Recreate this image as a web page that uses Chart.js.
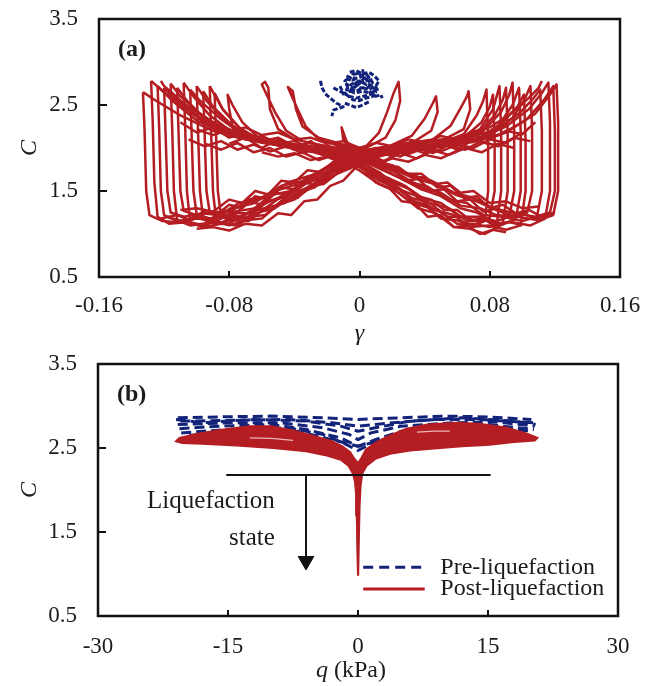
<!DOCTYPE html>
<html>
<head>
<meta charset="utf-8">
<script src="https://cdn.jsdelivr.net/npm/chart.js@4.4.1/dist/chart.umd.min.js"></script>
<style>
  html, body { margin: 0; padding: 0; background: #ffffff; }
  #wrap { position: relative; width: 651px; height: 686px; overflow: hidden; }
  #ca { position: absolute; left: 0; top: 0; }
  #cb { position: absolute; left: 0; top: 350px; }
</style>
</head>
<body>
<div id="wrap">
  <canvas id="ca" width="651" height="350"></canvas>
  <canvas id="cb" width="651" height="336"></canvas>
</div>
<script>
// ---------------- DATA: panel (a)  [gamma, C] ----------------
const xTicksA = ['-0.16', '-0.08', '0', '0.08', '0.16'];
const yTicks  = ['0.5', '1.5', '2.5', '3.5'];
const xTicksB = ['-30', '-15', '0', '15', '30'];

const loopA01 = [[-0.133,2.65],[-0.132,2.2],[-0.131,1.5],[-0.129,1.22],[-0.121,1.15],[-0.108,1.13],[-0.098,1.2],[-0.09,1.17],[-0.078,1.3],[-0.066,1.35],[-0.052,1.5],[-0.038,1.58],[-0.022,1.74],[-0.008,1.86],[0.008,1.93],[0.03,1.98],[0.05,2.03],[0.07,2.07],[0.09,2.18],[0.108,2.4],[0.117,2.62],[0.121,2.74],[0.122,2.3],[0.122,1.5],[0.119,1.22],[0.11,1.16],[0.097,1.2],[0.085,1.27],[0.072,1.38],[0.06,1.45],[0.046,1.58],[0.032,1.66],[0.018,1.78],[0.004,1.88],[-0.012,1.96],[-0.03,2.02],[-0.05,2.06],[-0.07,2.1],[-0.09,2.2],[-0.11,2.38],[-0.125,2.55],[-0.133,2.65]];
const loopA02 = [[-0.128,2.78],[-0.127,2.3],[-0.126,1.6],[-0.124,1.2],[-0.117,1.12],[-0.105,1.14],[-0.095,1.1],[-0.083,1.2],[-0.074,1.18],[-0.062,1.32],[-0.05,1.42],[-0.036,1.56],[-0.02,1.7],[-0.006,1.84],[0.01,1.95],[0.028,2.01],[0.046,2.0],[0.066,2.08],[0.086,2.15],[0.102,2.32],[0.113,2.55],[0.119,2.72],[0.12,2.2],[0.12,1.5],[0.117,1.25],[0.108,1.2],[0.096,1.24],[0.082,1.3],[0.07,1.42],[0.058,1.48],[0.044,1.62],[0.03,1.7],[0.016,1.82],[0.002,1.9],[-0.014,1.94],[-0.034,2.0],[-0.054,2.08],[-0.074,2.12],[-0.094,2.28],[-0.11,2.5],[-0.122,2.68],[-0.128,2.78]];
const loopA03 = [[-0.124,2.72],[-0.123,2.2],[-0.122,1.5],[-0.12,1.22],[-0.112,1.15],[-0.1,1.18],[-0.088,1.15],[-0.077,1.26],[-0.064,1.3],[-0.055,1.45],[-0.042,1.5],[-0.03,1.64],[-0.016,1.76],[-0.004,1.87],[0.012,1.92],[0.032,1.97],[0.052,2.06],[0.072,2.1],[0.09,2.25],[0.104,2.45],[0.112,2.64],[0.116,2.76],[0.117,2.3],[0.117,1.5],[0.114,1.18],[0.105,1.1],[0.093,1.14],[0.083,1.12],[0.072,1.25],[0.062,1.3],[0.05,1.44],[0.038,1.52],[0.024,1.66],[0.01,1.78],[-0.004,1.9],[-0.02,1.98],[-0.04,2.04],[-0.06,2.08],[-0.08,2.14],[-0.1,2.32],[-0.115,2.55],[-0.124,2.72]];
const loopA04 = [[-0.12,2.7],[-0.119,2.1],[-0.118,1.5],[-0.116,1.25],[-0.108,1.2],[-0.097,1.24],[-0.086,1.22],[-0.074,1.36],[-0.062,1.4],[-0.048,1.56],[-0.034,1.62],[-0.02,1.78],[-0.006,1.88],[0.01,1.98],[0.03,2.04],[0.05,2.1],[0.068,2.12],[0.084,2.22],[0.098,2.4],[0.107,2.58],[0.111,2.68],[0.112,2.2],[0.112,1.5],[0.109,1.2],[0.1,1.15],[0.088,1.2],[0.076,1.22],[0.066,1.36],[0.054,1.4],[0.042,1.55],[0.028,1.62],[0.014,1.76],[0.0,1.86],[-0.016,1.95],[-0.036,2.02],[-0.056,2.1],[-0.076,2.16],[-0.094,2.3],[-0.108,2.5],[-0.116,2.62],[-0.12,2.7]];
const loopA05 = [[-0.116,2.75],[-0.115,2.2],[-0.114,1.5],[-0.112,1.16],[-0.104,1.1],[-0.092,1.13],[-0.08,1.12],[-0.07,1.24],[-0.058,1.3],[-0.046,1.46],[-0.034,1.52],[-0.02,1.68],[-0.008,1.8],[0.006,1.9],[0.024,1.95],[0.044,2.0],[0.064,2.06],[0.08,2.14],[0.094,2.35],[0.101,2.55],[0.105,2.72],[0.106,2.2],[0.106,1.5],[0.103,1.25],[0.095,1.2],[0.084,1.22],[0.074,1.3],[0.062,1.33],[0.05,1.48],[0.038,1.54],[0.024,1.7],[0.01,1.82],[-0.006,1.92],[-0.024,1.97],[-0.044,2.03],[-0.064,2.1],[-0.082,2.2],[-0.098,2.4],[-0.11,2.6],[-0.116,2.75]];
const loopA06 = [[-0.112,2.7],[-0.111,2.1],[-0.11,1.5],[-0.108,1.27],[-0.1,1.22],[-0.09,1.26],[-0.08,1.25],[-0.068,1.4],[-0.056,1.44],[-0.044,1.6],[-0.03,1.68],[-0.016,1.8],[-0.002,1.9],[0.016,1.97],[0.036,2.02],[0.056,2.04],[0.074,2.12],[0.088,2.3],[0.097,2.48],[0.101,2.62],[0.102,2.1],[0.102,1.5],[0.099,1.1],[0.09,1.05],[0.079,1.1],[0.068,1.08],[0.058,1.22],[0.046,1.28],[0.034,1.45],[0.022,1.54],[0.01,1.7],[-0.004,1.84],[-0.02,1.93],[-0.04,2.0],[-0.06,2.06],[-0.078,2.14],[-0.094,2.32],[-0.106,2.55],[-0.112,2.7]];
const loopA07 = [[-0.108,2.76],[-0.107,2.2],[-0.106,1.5],[-0.104,1.13],[-0.096,1.08],[-0.085,1.12],[-0.075,1.1],[-0.064,1.24],[-0.052,1.3],[-0.04,1.46],[-0.028,1.54],[-0.014,1.7],[-0.002,1.84],[0.014,1.92],[0.034,1.99],[0.054,2.06],[0.072,2.1],[0.085,2.25],[0.094,2.5],[0.098,2.7],[0.099,2.2],[0.099,1.5],[0.096,1.17],[0.088,1.12],[0.077,1.16],[0.066,1.15],[0.055,1.3],[0.043,1.36],[0.031,1.52],[0.018,1.62],[0.006,1.78],[-0.008,1.88],[-0.024,1.96],[-0.044,2.02],[-0.062,2.08],[-0.078,2.18],[-0.092,2.38],[-0.102,2.6],[-0.108,2.76]];
const loopA08 = [[-0.104,2.68],[-0.103,2.1],[-0.102,1.5],[-0.1,1.23],[-0.092,1.18],[-0.082,1.22],[-0.072,1.2],[-0.06,1.36],[-0.048,1.42],[-0.036,1.58],[-0.022,1.66],[-0.01,1.8],[0.004,1.9],[0.02,1.96],[0.04,2.02],[0.06,2.08],[0.076,2.2],[0.087,2.42],[0.092,2.62],[0.094,2.76],[0.095,2.2],[0.095,1.5],[0.092,1.2],[0.084,1.15],[0.073,1.2],[0.062,1.2],[0.05,1.36],[0.038,1.42],[0.026,1.58],[0.012,1.7],[0.0,1.84],[-0.016,1.94],[-0.036,2.02],[-0.056,2.08],[-0.072,2.16],[-0.086,2.35],[-0.098,2.55],[-0.104,2.68]];
const loopA09 = [[-0.1,2.72],[-0.099,2.1],[-0.098,1.5],[-0.096,1.17],[-0.088,1.12],[-0.078,1.16],[-0.068,1.15],[-0.058,1.3],[-0.046,1.36],[-0.034,1.52],[-0.022,1.6],[-0.01,1.76],[0.004,1.86],[0.02,1.94],[0.04,2.0],[0.058,2.06],[0.072,2.16],[0.083,2.38],[0.088,2.56],[0.09,2.7],[0.091,2.2],[0.091,1.5],[0.088,1.13],[0.08,1.08],[0.07,1.12],[0.06,1.12],[0.048,1.28],[0.036,1.34],[0.024,1.52],[0.012,1.62],[0.0,1.78],[-0.014,1.9],[-0.032,1.98],[-0.052,2.04],[-0.068,2.12],[-0.082,2.3],[-0.094,2.55],[-0.1,2.72]];
const loopA10 = [[-0.096,2.66],[-0.095,2.1],[-0.094,1.5],[-0.092,1.25],[-0.085,1.2],[-0.075,1.24],[-0.066,1.24],[-0.056,1.38],[-0.044,1.44],[-0.032,1.6],[-0.02,1.68],[-0.008,1.82],[0.006,1.92],[0.024,1.98],[0.044,2.04],[0.062,2.1],[0.074,2.22],[0.082,2.45],[0.086,2.72],[0.087,2.2],[0.087,1.5],[0.084,1.07],[0.077,1.0],[0.068,1.06],[0.058,1.08],[0.047,1.24],[0.036,1.3],[0.024,1.48],[0.012,1.58],[0.0,1.74],[-0.012,1.86],[-0.028,1.95],[-0.048,2.02],[-0.064,2.1],[-0.078,2.26],[-0.09,2.48],[-0.096,2.66]];
const loopA11 = [[-0.092,2.72],[-0.091,2.1],[-0.09,1.5],[-0.088,1.15],[-0.08,1.1],[-0.07,1.16],[-0.06,1.18],[-0.05,1.34],[-0.04,1.4],[-0.028,1.58],[-0.016,1.68],[-0.004,1.82],[0.01,1.92],[0.028,1.98],[0.048,2.04],[0.064,2.12],[0.075,2.3],[0.08,2.48],[0.082,2.62],[0.083,2.1],[0.083,1.5],[0.08,1.19],[0.073,1.14],[0.064,1.2],[0.054,1.2],[0.043,1.36],[0.032,1.42],[0.02,1.6],[0.008,1.72],[-0.006,1.86],[-0.022,1.94],[-0.04,2.0],[-0.058,2.08],[-0.072,2.2],[-0.084,2.45],[-0.092,2.72]];
const loopA12 = [[-0.089,2.64],[-0.088,2.1],[-0.087,1.5],[-0.085,1.2],[-0.078,1.16],[-0.068,1.2],[-0.058,1.22],[-0.048,1.38],[-0.036,1.46],[-0.024,1.62],[-0.012,1.72],[0.0,1.86],[0.014,1.94],[0.032,2.0],[0.05,2.06],[0.064,2.16],[0.072,2.38],[0.076,2.55],[0.078,2.68],[0.079,2.1],[0.079,1.5],[0.077,1.15],[0.07,1.1],[0.06,1.16],[0.05,1.18],[0.04,1.34],[0.028,1.42],[0.016,1.6],[0.004,1.74],[-0.01,1.88],[-0.026,1.96],[-0.044,2.02],[-0.062,2.1],[-0.074,2.24],[-0.084,2.45],[-0.089,2.64]];

const spikeA1 = [[-0.02,1.98],[-0.045,2.04],[-0.062,2.12],[-0.072,2.3],[-0.078,2.5],[-0.081,2.62],[-0.08,2.45],[-0.078,2.25],[-0.07,2.12],[-0.05,2.06],[-0.03,2.0],[-0.01,1.94]];
const spikeA2 = [[0.0,1.95],[-0.02,2.0],[-0.035,2.08],[-0.045,2.2],[-0.052,2.42],[-0.057,2.62],[-0.06,2.74],[-0.058,2.77],[-0.056,2.7],[-0.055,2.45],[-0.05,2.22],[-0.04,2.1],[-0.02,2.02],[0.0,1.96]];
const spikeA3 = [[0.005,1.96],[-0.012,2.02],[-0.025,2.1],[-0.033,2.25],[-0.038,2.45],[-0.042,2.62],[-0.044,2.71],[-0.041,2.66],[-0.039,2.45],[-0.035,2.25],[-0.025,2.12],[-0.01,2.04],[0.005,1.98]];
const spikeA4 = [[0.004,1.92],[-0.004,1.98],[-0.008,2.08],[-0.011,2.24],[-0.01,2.1],[-0.006,1.98],[0.002,1.9]];
const spikeA5 = [[-0.01,1.94],[0.004,2.02],[0.012,2.18],[0.017,2.42],[0.021,2.64],[0.024,2.77],[0.025,2.55],[0.022,2.32],[0.016,2.12],[0.004,2.0],[-0.012,1.92]];
const spikeA6 = [[-0.005,1.95],[0.018,2.02],[0.032,2.14],[0.04,2.34],[0.045,2.52],[0.047,2.6],[0.048,2.42],[0.044,2.2],[0.034,2.08],[0.015,2.0],[-0.004,1.93]];
const spikeA7 = [[0.0,1.96],[0.025,2.04],[0.045,2.1],[0.056,2.26],[0.062,2.46],[0.066,2.6],[0.067,2.66],[0.068,2.45],[0.064,2.22],[0.052,2.1],[0.03,2.02],[0.005,1.97]];

const bandA1 = [[-0.1,2.22],[-0.09,2.15],[-0.082,2.2],[-0.07,2.1],[-0.06,2.14],[-0.05,2.05],[-0.04,2.08],[-0.03,2.0],[-0.02,2.03],[-0.01,1.95],[0.0,1.98],[0.01,1.92],[0.02,1.97],[0.03,1.93],[0.04,2.0],[0.05,1.96],[0.06,2.04],[0.07,2.0],[0.08,2.1],[0.09,2.06],[0.1,2.18]];
const bandA2 = [[-0.105,2.1],[-0.095,2.02],[-0.085,2.08],[-0.075,1.98],[-0.065,2.04],[-0.055,1.96],[-0.045,2.02],[-0.035,1.94],[-0.025,2.0],[-0.015,1.9],[-0.005,1.96],[0.005,1.88],[0.015,1.96],[0.025,1.9],[0.035,2.0],[0.045,1.94],[0.055,2.04],[0.065,1.98],[0.075,2.08],[0.085,2.02],[0.095,2.12],[0.105,2.08]];
const bandA3 = [[-0.09,2.28],[-0.08,2.2],[-0.07,2.24],[-0.06,2.15],[-0.05,2.18],[-0.04,2.1],[-0.03,2.12],[-0.02,2.05],[-0.01,2.08],[0.0,2.0],[0.01,2.06],[0.02,2.02],[0.03,2.1],[0.04,2.06],[0.05,2.14],[0.06,2.1],[0.07,2.2],[0.08,2.16],[0.09,2.28]];
const bandA4 = [[-0.06,1.95],[-0.05,1.9],[-0.04,1.94],[-0.03,1.86],[-0.02,1.9],[-0.01,1.82],[0.0,1.86],[0.01,1.8],[0.02,1.88],[0.03,1.84],[0.04,1.92],[0.05,1.88],[0.06,1.97]];
const bandA5 = [[-0.095,2.05],[-0.085,1.98],[-0.075,2.06],[-0.065,1.95],[-0.055,2.0],[-0.045,1.9],[-0.035,1.95],[-0.025,1.86],[-0.015,1.92],[-0.005,1.84],[0.005,1.92],[0.015,1.85],[0.025,1.94],[0.035,1.88],[0.045,1.97],[0.055,1.92],[0.065,2.0],[0.075,1.95],[0.085,2.05],[0.095,2.0]];
const bandA6 = [[-0.11,2.3],[-0.1,2.18],[-0.09,2.24],[-0.08,2.12],[-0.07,2.18],[-0.06,2.08],[-0.05,2.12],[-0.04,2.02],[-0.03,2.06],[-0.02,1.98],[-0.01,2.02],[0.0,1.94],[0.01,2.0],[0.02,1.96],[0.03,2.04],[0.04,2.0],[0.05,2.08],[0.06,2.05],[0.07,2.14],[0.08,2.1],[0.09,2.2],[0.1,2.16],[0.108,2.3]];
const bandA7 = [[-0.08,2.05],[-0.07,2.12],[-0.06,2.0],[-0.05,2.1],[-0.04,1.98],[-0.03,2.08],[-0.02,1.94],[-0.01,2.0],[0.0,1.9],[0.01,1.98],[0.02,1.9],[0.03,2.0],[0.04,1.94],[0.05,2.06],[0.06,1.98],[0.07,2.1],[0.08,2.04]];
const lowL1 = [[-0.118,1.2],[-0.108,1.14],[-0.1,1.22],[-0.092,1.16],[-0.084,1.28],[-0.076,1.24],[-0.068,1.38],[-0.06,1.34],[-0.052,1.48],[-0.044,1.46],[-0.036,1.6],[-0.028,1.58],[-0.02,1.72],[-0.012,1.74],[-0.004,1.86],[0.004,1.9]];
const lowL2 = [[-0.11,1.28],[-0.1,1.3],[-0.09,1.26],[-0.08,1.4],[-0.072,1.36],[-0.064,1.5],[-0.056,1.46],[-0.048,1.62],[-0.04,1.6],[-0.032,1.74],[-0.024,1.72],[-0.016,1.84],[-0.008,1.84],[0.0,1.94]];
const lowL3 = [[-0.1,1.06],[-0.09,1.08],[-0.08,1.04],[-0.07,1.12],[-0.06,1.1],[-0.05,1.24],[-0.042,1.22],[-0.034,1.38],[-0.026,1.4],[-0.018,1.56],[-0.01,1.62],[-0.002,1.78],[0.006,1.86]];
const lowL4 = [[-0.122,1.18],[-0.112,1.22],[-0.104,1.16],[-0.096,1.26],[-0.088,1.22],[-0.08,1.34],[-0.072,1.3],[-0.064,1.44],[-0.056,1.4],[-0.048,1.54],[-0.04,1.52],[-0.032,1.66],[-0.024,1.64],[-0.016,1.78],[-0.008,1.8],[0.0,1.9]];
const lowL5 = [[-0.095,1.16],[-0.086,1.12],[-0.078,1.2],[-0.07,1.18],[-0.062,1.3],[-0.054,1.28],[-0.046,1.42],[-0.038,1.42],[-0.03,1.56],[-0.022,1.58],[-0.014,1.7],[-0.006,1.76],[0.002,1.86]];
const lowR1 = [[0.118,1.22],[0.108,1.18],[0.1,1.24],[0.092,1.2],[0.084,1.3],[0.076,1.26],[0.068,1.4],[0.06,1.38],[0.052,1.52],[0.044,1.5],[0.036,1.64],[0.028,1.62],[0.02,1.76],[0.012,1.78],[0.004,1.88],[-0.004,1.92]];
const lowR2 = [[0.09,1.02],[0.082,1.05],[0.074,1.0],[0.066,1.1],[0.058,1.08],[0.05,1.22],[0.042,1.2],[0.034,1.36],[0.026,1.38],[0.018,1.54],[0.01,1.6],[0.002,1.76],[-0.006,1.84]];
const lowR3 = [[0.11,1.32],[0.1,1.3],[0.09,1.38],[0.08,1.36],[0.07,1.5],[0.062,1.48],[0.054,1.6],[0.046,1.58],[0.038,1.7],[0.03,1.7],[0.02,1.8],[0.01,1.84],[0.0,1.92]];
const lowR4 = [[0.12,1.25],[0.112,1.2],[0.104,1.28],[0.096,1.24],[0.088,1.34],[0.08,1.3],[0.072,1.44],[0.064,1.42],[0.056,1.56],[0.048,1.54],[0.04,1.66],[0.032,1.66],[0.024,1.78],[0.016,1.8],[0.008,1.88],[0.0,1.9]];
const lowR5 = [[0.1,1.1],[0.092,1.14],[0.084,1.08],[0.076,1.18],[0.068,1.16],[0.06,1.28],[0.052,1.28],[0.044,1.4],[0.036,1.44],[0.028,1.56],[0.02,1.6],[0.012,1.72],[0.004,1.8],[-0.004,1.88]];
const riseL1 = [[-0.07,2.16],[-0.08,2.22],[-0.09,2.3],[-0.1,2.42],[-0.108,2.52],[-0.115,2.64],[-0.12,2.72],[-0.122,2.78]];
const riseR1 = [[0.07,2.18],[0.08,2.24],[0.09,2.36],[0.098,2.48],[0.105,2.6],[0.11,2.7],[0.112,2.78]];

const blueA1 = [[-0.024,2.78],[-0.023,2.7],[-0.021,2.63],[-0.018,2.58],[-0.014,2.52],[-0.01,2.48],[-0.016,2.44],[-0.017,2.37]];
const blueA2 = [[-0.012,2.72],[-0.01,2.64],[-0.006,2.6],[-0.002,2.58],[0.002,2.6],[0.006,2.62],[0.01,2.65],[0.009,2.7],[0.006,2.74],[0.004,2.8],[0.0,2.86],[-0.004,2.86],[-0.006,2.8],[-0.008,2.74],[-0.004,2.7],[0.0,2.75],[0.003,2.82],[0.002,2.9],[-0.002,2.86],[-0.004,2.78],[0.0,2.7],[0.005,2.7],[0.008,2.76],[0.006,2.82],[0.002,2.78],[-0.002,2.72],[-0.006,2.66],[-0.011,2.62]];
const blueA3 = [[-0.016,2.7],[-0.012,2.66],[-0.008,2.62],[-0.004,2.56],[0.0,2.55],[0.004,2.58],[0.008,2.6],[0.011,2.63]];
const blueA4 = [[-0.009,2.52],[-0.006,2.5],[-0.002,2.47],[0.002,2.5],[0.006,2.54]];
const blueA5 = [[-0.008,2.84],[-0.004,2.8],[0.0,2.82],[0.004,2.86],[0.007,2.8],[0.004,2.74],[0.0,2.78],[-0.005,2.74],[-0.008,2.68],[-0.003,2.64],[0.002,2.66],[0.007,2.64],[0.011,2.68],[0.009,2.74]];
const blueA6 = [[-0.006,2.88],[-0.002,2.9],[0.002,2.86],[0.006,2.88],[0.009,2.84],[0.012,2.78],[0.01,2.72],[0.006,2.68],[0.002,2.7],[-0.002,2.66],[-0.007,2.7],[-0.009,2.78],[-0.006,2.82]];
const blueA7 = [[0.006,2.66],[0.01,2.6],[0.013,2.62],[0.014,2.58]];

// ---------------- DATA: panel (b)  [q (kPa), C] ----------------
const redWingB = [[0,0.98],[-0.08,1.3],[-0.14,1.7],[-0.22,1.95],[-0.35,2.1],[-0.6,2.2],[-1.1,2.29],[-2,2.36],[-3.6,2.41],[-6,2.46],[-9.8,2.5],[-14,2.53],[-18,2.55],[-20.3,2.56],[-21,2.58],[-20.6,2.62],[-18.5,2.67],[-15.5,2.72],[-12.5,2.76],[-10,2.76],[-7.5,2.71],[-5,2.64],[-3,2.58],[-1.8,2.52],[-0.9,2.45],[-0.4,2.37],[0,2.32],[0.4,2.38],[0.9,2.48],[2,2.56],[3.5,2.64],[5.6,2.73],[8,2.78],[11.4,2.8],[14,2.79],[17.2,2.74],[19.5,2.67],[20.7,2.62],[20.4,2.59],[18,2.57],[15.2,2.54],[12,2.52],[9.5,2.5],[6,2.47],[3.7,2.43],[2,2.37],[1,2.29],[0.5,2.2],[0.3,2.05],[0.18,1.8],[0.1,1.4],[0.04,1.0],[0,0.98]];
const streakB1 = [[-12.5,2.62],[-10,2.615],[-7.5,2.59]];
const streakB2 = [[6.8,2.69],[8.8,2.7],[10.6,2.7]];

const blueB1 = [[-20.8,2.86],[-16,2.87],[-10,2.88],[-4,2.86],[0,2.84],[5,2.86],[10,2.88],[15,2.87],[20,2.84]];
const blueB2 = [[-20.5,2.82],[-14,2.83],[-8,2.84],[-3,2.8],[0,2.76],[4,2.8],[9,2.84],[14,2.84],[20.2,2.8]];
const blueB3 = [[-20.8,2.78],[-15,2.8],[-9,2.8],[-4,2.74],[-1,2.66],[0,2.6],[1.5,2.68],[5,2.76],[11,2.8],[16,2.81],[20.4,2.76]];
const blueB4 = [[-20.6,2.73],[-16,2.76],[-10,2.78],[-6,2.72],[-2,2.62],[0,2.52],[2,2.6],[5,2.7],[9,2.76],[15,2.78],[20.3,2.72]];
const blueB5 = [[-20.4,2.68],[-15,2.72],[-8,2.74],[-4,2.66],[-1.5,2.55],[0,2.47],[1.5,2.55],[4,2.64],[8,2.72],[14,2.76],[20,2.7]];
const blueB6 = [[-19.5,2.65],[-14,2.7],[-7,2.7],[-3,2.6],[0,2.52],[3,2.6],[7,2.68],[12,2.74],[19.5,2.68]];
const blueB7 = [[-21,2.84],[-18,2.8],[-12,2.84],[-6,2.82],[-2,2.76],[0,2.7],[2,2.74],[6,2.82],[12,2.86],[18,2.82],[20.5,2.78]];

const stateLine = [[-15.2,2.18],[15.3,2.18]];
const arrowShaft = [[-6,2.18],[-6,1.2]];
const arrowHead  = [[-6,1.155]];

const legendLabels = ['Pre-liquefaction', 'Post-liquefaction'];
const annotText = ['Liquefaction', 'state'];

// ---------------- RENDERING ----------------
const RED = '#B41D22';
const BLUE = '#13237A';
const FONT = "'Liberation Serif', 'Times New Roman', serif";
const TXT = '#1c1c1c';
const pts = a => a.map(p => ({ x: p[0], y: p[1] }));

const frame = {
  id: 'frame',
  afterDatasetsDraw(chart, args, opts) {
    const { ctx, chartArea: a } = chart;
    const x = chart.scales.x, y = chart.scales.y;
    ctx.save();
    ctx.strokeStyle = '#111';
    ctx.lineWidth = 2.5;
    ctx.strokeRect(a.left, a.top, a.right - a.left, a.bottom - a.top);
    ctx.lineWidth = 2;
    x.ticks.forEach((t, i) => {
      if (i === 0 || i === x.ticks.length - 1) return;
      const px = Math.round(x.getPixelForValue(t.value));
      ctx.beginPath(); ctx.moveTo(px, a.bottom); ctx.lineTo(px, a.bottom - 6); ctx.stroke();
    });
    y.ticks.forEach((t, i) => {
      if (i === 0 || i === y.ticks.length - 1) return;
      const py = Math.round(y.getPixelForValue(t.value));
      ctx.beginPath(); ctx.moveTo(a.left, py); ctx.lineTo(a.left + 8, py); ctx.stroke();
    });
    ctx.fillStyle = TXT;
    ctx.textBaseline = 'middle';
    ctx.textAlign = 'left';
    ctx.font = 'bold 24px ' + FONT;
    ctx.fillText(opts.label, a.left + 19, a.top + opts.labelDy);

    if (opts.annot) {
      ctx.font = '25px ' + FONT;
      ctx.textAlign = 'right';
      ctx.fillText(annotText[0], x.getPixelForValue(-9.6), y.getPixelForValue(1.86));
      ctx.fillText(annotText[1], x.getPixelForValue(-9.6), y.getPixelForValue(1.42));
      const lx0 = x.getPixelForValue(0.6), lx1 = x.getPixelForValue(7.7);
      const ly1 = y.getPixelForValue(1.08), ly2 = y.getPixelForValue(0.82);
      ctx.lineWidth = 3;
      ctx.strokeStyle = BLUE;
      ctx.setLineDash([10, 6]);
      ctx.beginPath(); ctx.moveTo(lx0, ly1); ctx.lineTo(lx1, ly1); ctx.stroke();
      ctx.setLineDash([]);
      ctx.strokeStyle = RED;
      ctx.beginPath(); ctx.moveTo(lx0, ly2); ctx.lineTo(lx1, ly2); ctx.stroke();
      ctx.font = '24px ' + FONT;
      ctx.textAlign = 'left';
      ctx.fillStyle = TXT;
      const tx = x.getPixelForValue(9.5);
      ctx.fillText(legendLabels[0], tx, ly1);
      ctx.fillText(legendLabels[1], tx, ly2);
    }
    ctx.restore();
  }
};

function axes(cfg) {
  return {
    x: {
      type: 'linear', min: cfg.xmin, max: cfg.xmax,
      afterFit: s => { s.height = cfg.xh; s.paddingLeft = 0; s.paddingRight = 0; },
      grid: { display: false, drawTicks: false },
      border: { display: false },
      ticks: { stepSize: cfg.xstep, padding: cfg.xpad, color: TXT, font: { family: FONT, size: 23 },
               maxRotation: 0, autoSkip: false, callback: (v, i) => cfg.xlabels[i] },
      title: { display: true, text: cfg.xtitle, color: TXT, font: { family: FONT, size: 24, style: cfg.xstyle },
               padding: { top: 0, bottom: cfg.xtpad } }
    },
    y: {
      type: 'linear', min: 0.5, max: 3.5,
      afterFit: s => { s.width = cfg.yw; s.paddingTop = 0; s.paddingBottom = 0; },
      grid: { display: false, drawTicks: false },
      border: { display: false },
      ticks: { stepSize: 1, padding: 21, color: TXT, font: { family: FONT, size: 23 },
               autoSkip: false, callback: (v, i) => yTicks[i] },
      title: { display: true, text: 'C', color: TXT, font: { family: FONT, size: 24, style: 'italic' },
               padding: { top: 15, bottom: 0 } }
    }
  };
}

const lineDs = (d, color, w, dash) => ({
  data: pts(d), showLine: true, borderColor: color, borderWidth: w, pointRadius: 0,
  borderDash: dash || [], fill: false, tension: 0, borderJoinStyle: 'round'
});

// Panel (a)
const redA = [loopA01, loopA02, loopA03, loopA04, loopA05, loopA06, loopA07, loopA08, loopA09, loopA10, loopA11, loopA12,
              spikeA1, spikeA2, spikeA3, spikeA4, spikeA5, spikeA6, spikeA7,
              bandA1, bandA2, bandA3, bandA4, bandA5, bandA6, bandA7,
              lowL1, lowL2, lowL3, lowL4, lowL5, lowR1, lowR2, lowR3, lowR4, lowR5, riseL1, riseR1];
const blueA = [blueA1, blueA2, blueA3, blueA4, blueA5, blueA6, blueA7];

new Chart(document.getElementById('ca'), {
  type: 'scatter',
  data: { datasets: [
    ...redA.map(d => lineDs(d, RED, 2.5)),
    ...blueA.map(d => lineDs(d, BLUE, 3, [5, 2]))
  ] },
  options: {
    responsive: false, animation: false, devicePixelRatio: 1,
    layout: { padding: { top: 19, right: 31, left: 0, bottom: 0 } },
    plugins: { legend: { display: false }, tooltip: { enabled: false },
               frame: { label: '(a)', labelDy: 31 } },
    scales: axes({ xmin: -0.16, xmax: 0.16, xstep: 0.08, xlabels: xTicksA, xh: 73, xpad: 15,
                   xtitle: 'γ', xstyle: 'italic', xtpad: 2, yw: 99 })
  },
  plugins: [frame]
});

// Panel (b)
const blueB = [blueB1, blueB2, blueB3, blueB4, blueB5, blueB6, blueB7];
new Chart(document.getElementById('cb'), {
  type: 'scatter',
  data: { datasets: [
    lineDs(stateLine, '#111', 2),
    lineDs(arrowShaft, '#111', 2),
    { data: pts(arrowHead), showLine: false, pointStyle: 'triangle', rotation: 180, pointRadius: 9,
      backgroundColor: '#111', borderColor: '#111', borderWidth: 1 },
    lineDs(streakB1, 'rgba(255,235,235,0.75)', 1.2),
    lineDs(streakB2, 'rgba(255,235,235,0.75)', 1.2),
    { data: pts(redWingB), showLine: true, borderColor: RED, borderWidth: 2, pointRadius: 0,
      backgroundColor: RED, fill: 'shape', tension: 0 },
    ...blueB.map(d => lineDs(d, BLUE, 3, [10, 5]))
  ] },
  options: {
    responsive: false, animation: false, devicePixelRatio: 1,
    layout: { padding: { top: 14, right: 33, left: 0, bottom: 0 } },
    plugins: { legend: { display: false }, tooltip: { enabled: false },
               frame: { label: '(b)', labelDy: 31, annot: true } },
    scales: axes({ xmin: -30, xmax: 30, xstep: 15, xlabels: xTicksB, xh: 70, xpad: 17,
                   xtitle: [''], xstyle: 'normal', xtpad: 0, yw: 98 })
  },
  plugins: [frame, {
    id: 'qtitle',
    afterDraw(chart) {
      const { ctx } = chart;
      const x = chart.scales.x;
      const cx = (x.left + x.right) / 2 - 7;
      const cy = chart.height - 15;
      ctx.save();
      ctx.fillStyle = TXT;
      ctx.textBaseline = 'middle';
      const q = 'q', rest = ' (kPa)';
      ctx.font = '24px ' + FONT;
      const wr = ctx.measureText(rest).width;
      ctx.font = 'italic 24px ' + FONT;
      const wq = ctx.measureText(q).width;
      const start = cx - (wq + wr) / 2;
      ctx.textAlign = 'left';
      ctx.fillText(q, start, cy);
      ctx.font = '24px ' + FONT;
      ctx.fillText(rest, start + wq, cy);
      ctx.restore();
    }
  }]
});
</script>
</body>
</html>
